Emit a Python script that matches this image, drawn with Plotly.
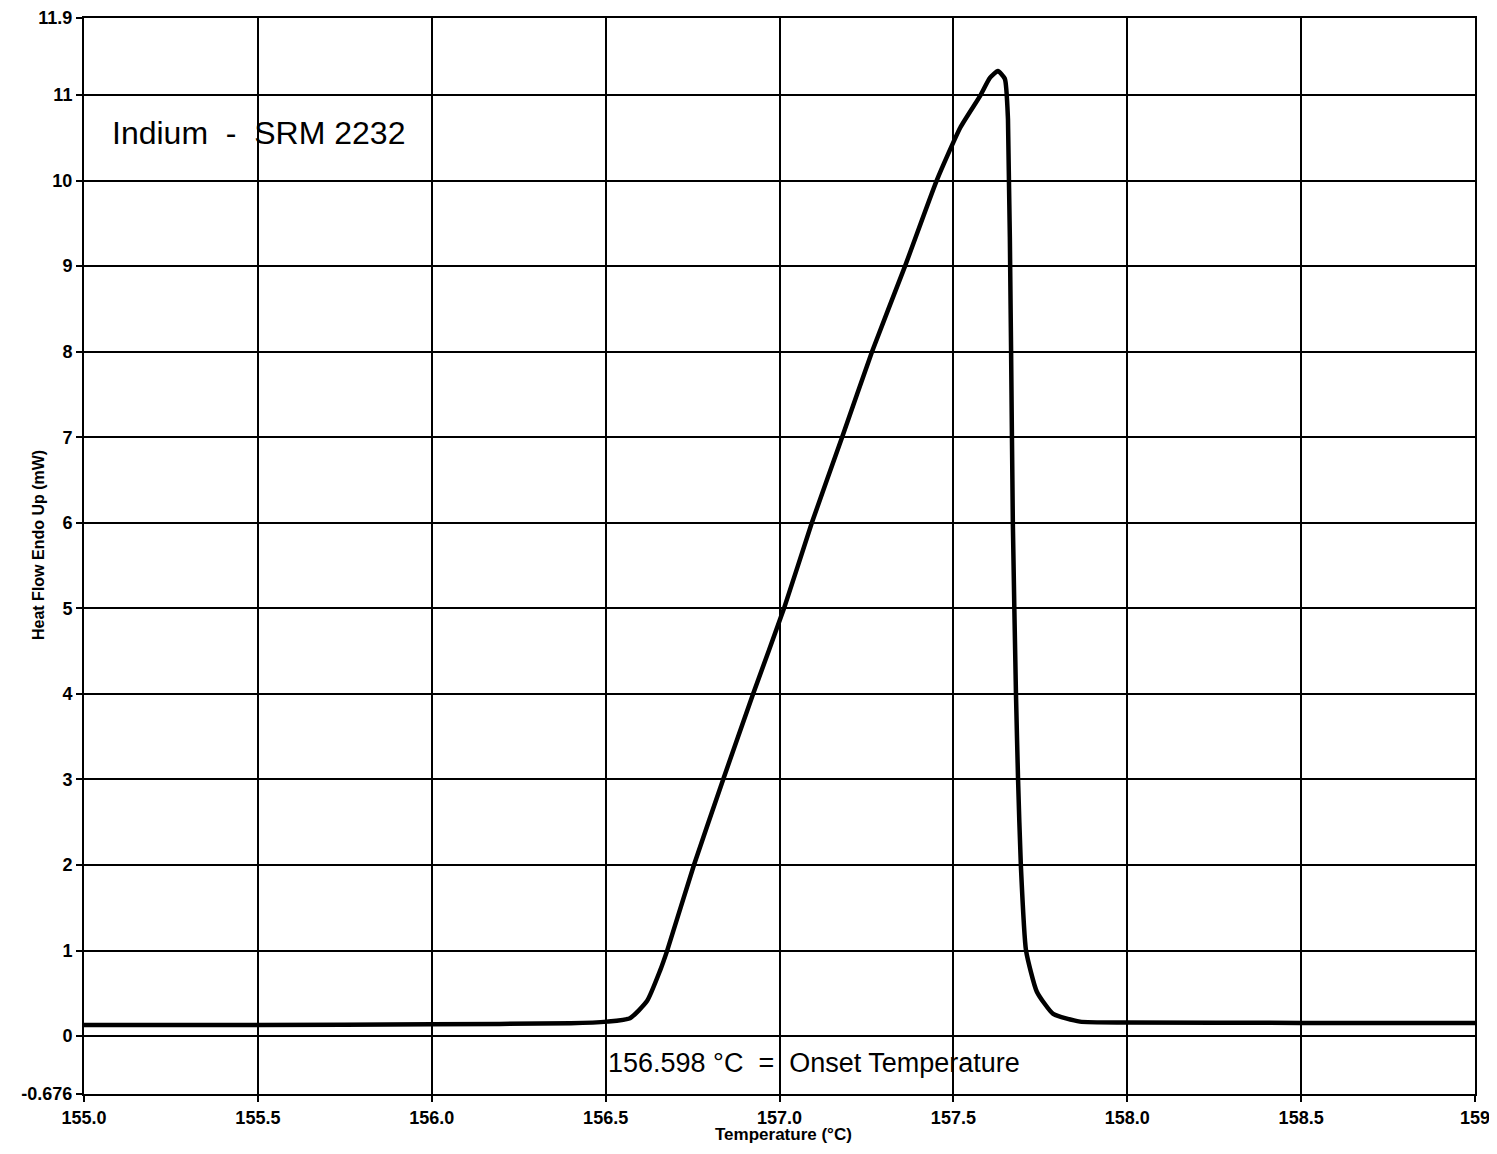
import plotly.graph_objects as go

# Temperature (°C) and heat flow (mW)
temperature = [155.0, 155.5, 156.0, 156.4, 156.504, 156.570, 156.619, 156.656, 156.677,
               156.754, 156.838, 156.924, 157.013, 157.093, 157.180, 157.266, 157.361,
               157.452, 157.520, 157.577, 157.605, 157.628, 157.648, 157.657, 157.666,
               157.671, 157.680, 157.686, 157.694, 157.709, 157.740, 157.787, 157.864,
               158.0, 158.5, 159.0]
heat_flow = [0.13, 0.13, 0.14, 0.15, 0.17, 0.21, 0.41, 0.76, 1.0,
             2.0, 3.0, 4.0, 5.0, 6.0, 7.0, 8.0, 9.0,
             10.0, 10.62, 10.99, 11.2, 11.28, 11.19, 10.72, 8.0,
             6.0, 4.0, 3.0, 2.0, 1.0, 0.52, 0.26, 0.17,
             0.16, 0.155, 0.155]

x_tick_vals = [155.0, 155.5, 156.0, 156.5, 157.0, 157.5, 158.0, 158.5, 159.0]
x_tick_text = ["155.0", "155.5", "156.0", "156.5", "157.0", "157.5", "158.0", "158.5", "159"]
y_tick_vals = [-0.676, 0, 1, 2, 3, 4, 5, 6, 7, 8, 9, 10, 11, 11.9]
y_tick_text = ["-0.676", "0", "1", "2", "3", "4", "5", "6", "7", "8", "9", "10", "11", "11.9"]

FONT = "Liberation Sans, Arial, sans-serif"

fig = go.Figure()
fig.add_trace(go.Scatter(x=temperature, y=heat_flow, mode="lines",
                         line=dict(color="black", width=4.5, shape="spline", smoothing=0.5),
                         showlegend=False))

W, H = 1489, 1138
L, R, T, B = 76, 22, 10, 52
PW, PH = W - L - R, H - T - B

axis_common = dict(showgrid=True, gridcolor="black", gridwidth=2,
                   showline=True, linecolor="black", linewidth=2, mirror=True,
                   ticks="outside", ticklen=6, tickwidth=2, tickcolor="black",
                   tickfont=dict(family=FONT, size=18, color="black", weight="bold"),
                   zeroline=False, automargin=False, ticklabeloverflow="allow")

fig.update_layout(
    width=W, height=H,
    margin=dict(l=L, r=R, t=T, b=B),
    paper_bgcolor="white", plot_bgcolor="white",
    font=dict(family=FONT, color="black"),
    xaxis=dict(range=[155.0, 159.0], tickvals=x_tick_vals, ticktext=x_tick_text, **axis_common),
    yaxis=dict(range=[-0.676, 11.9], tickvals=y_tick_vals, ticktext=y_tick_text, **axis_common),
    annotations=[
        dict(text="Indium\u00a0\u00a0-\u00a0\u00a0SRM 2232", xref="paper", yref="y",
             x=(110 - 84) / PW, y=10.56, xanchor="left", yanchor="middle",
             showarrow=False, font=dict(family=FONT, size=32, color="black")),
        dict(text="156.598 °C\u00a0\u00a0=\u00a0\u00a0Onset Temperature", xref="x", yref="y",
             x=156.5, y=-0.31, xanchor="left", yanchor="middle",
             showarrow=False, font=dict(family=FONT, size=27, color="black")),
        dict(text="Heat Flow Endo Up (mW)", xref="paper", yref="paper",
             x=(38 - 84) / PW, y=(1094 - 545) / PH,
             xanchor="center", yanchor="middle",
             textangle=-90, showarrow=False,
             font=dict(family=FONT, size=16, color="black", weight="bold")),
        dict(text="Temperature (°C)", xref="paper", yref="paper",
             x=(783 - 84) / PW, y=-(1134 - 1094) / PH, xanchor="center", yanchor="middle",
             showarrow=False,
             font=dict(family=FONT, size=17, color="black", weight="bold")),
    ],
)

fig.write_html("out.html")
